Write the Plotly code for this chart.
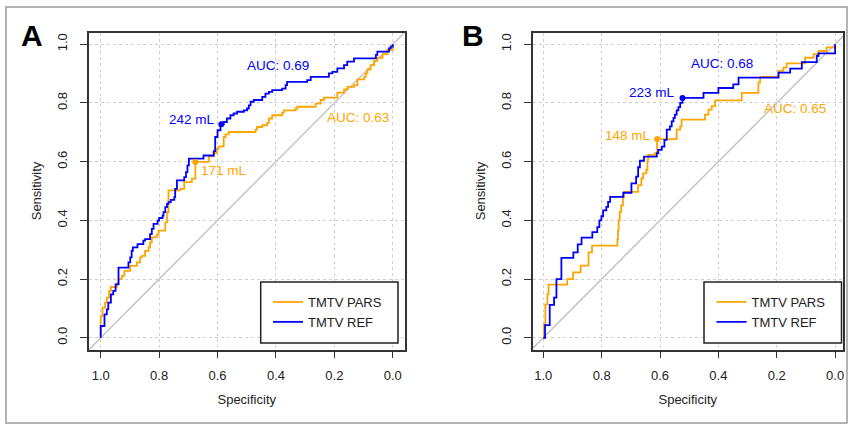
import plotly.graph_objects as go

# ---------------- data ----------------
# Panel A
spec_a_pars = [1.000, 1.000, 0.994, 0.985, 0.979, 0.971, 0.965, 0.945, 0.939, 0.928, 0.919, 0.899,
               0.876, 0.865, 0.859, 0.848, 0.836, 0.831, 0.825, 0.808, 0.802, 0.779, 0.773, 0.768,
               0.728, 0.714, 0.688, 0.676, 0.630, 0.613, 0.602, 0.596, 0.579, 0.573, 0.562, 0.470,
               0.465, 0.447, 0.430, 0.424, 0.413, 0.379, 0.373, 0.333, 0.327, 0.264, 0.247, 0.236,
               0.190, 0.167, 0.156, 0.133, 0.121, 0.098, 0.093, 0.087, 0.076, 0.064, 0.053, 0.035,
               0.018, 0.000]
sens_a_pars = [0.000, 0.074, 0.103, 0.120, 0.137, 0.160, 0.173, 0.185, 0.200, 0.211, 0.228, 0.245,
               0.257, 0.274, 0.279, 0.296, 0.308, 0.325, 0.342, 0.351, 0.365, 0.393, 0.428, 0.502,
               0.507, 0.530, 0.542, 0.599, 0.618, 0.629, 0.644, 0.652, 0.684, 0.693, 0.701, 0.709,
               0.718, 0.724, 0.732, 0.747, 0.758, 0.767, 0.775, 0.781, 0.787, 0.798, 0.810, 0.818,
               0.835, 0.846, 0.855, 0.861, 0.880, 0.889, 0.901, 0.914, 0.929, 0.943, 0.954, 0.966,
               0.981, 1.000]
spec_a_ref = [1.000, 1.000, 0.987, 0.979, 0.974, 0.965, 0.957, 0.949, 0.939, 0.905, 0.899, 0.894,
              0.890, 0.874, 0.854, 0.848, 0.831, 0.825, 0.819, 0.805, 0.800, 0.788, 0.785, 0.779,
              0.773, 0.768, 0.760, 0.748, 0.745, 0.739, 0.714, 0.708, 0.703, 0.698, 0.648, 0.613,
              0.608, 0.600, 0.590, 0.579, 0.568, 0.556, 0.545, 0.533, 0.510, 0.499, 0.493, 0.487,
              0.476, 0.447, 0.436, 0.424, 0.413, 0.379, 0.367, 0.362, 0.293, 0.281, 0.219, 0.207,
              0.190, 0.167, 0.156, 0.133, 0.058, 0.053, 0.013, 0.007, 0.000]
sens_a_ref = [0.000, 0.040, 0.080, 0.097, 0.120, 0.148, 0.160, 0.182, 0.239, 0.257, 0.274, 0.296,
              0.308, 0.319, 0.331, 0.336, 0.353, 0.371, 0.388, 0.399, 0.408, 0.416, 0.428, 0.445,
              0.456, 0.462, 0.470, 0.479, 0.507, 0.536, 0.547, 0.564, 0.587, 0.610, 0.621, 0.636,
              0.684, 0.707, 0.727, 0.735, 0.747, 0.758, 0.764, 0.770, 0.775, 0.781, 0.792, 0.804,
              0.810, 0.821, 0.832, 0.838, 0.844, 0.849, 0.861, 0.872, 0.878, 0.889, 0.901, 0.906,
              0.918, 0.929, 0.941, 0.952, 0.964, 0.975, 0.986, 0.992, 1.000]

# Panel B
spec_b_pars = [1.000, 0.998, 0.993, 0.986, 0.982, 0.918, 0.898, 0.872, 0.845, 0.833, 0.746, 0.744,
               0.742, 0.738, 0.733, 0.727, 0.723, 0.675, 0.664, 0.658, 0.647, 0.643, 0.641, 0.617,
               0.610, 0.543, 0.531, 0.526, 0.446, 0.434, 0.423, 0.411, 0.320, 0.263, 0.257, 0.194,
               0.177, 0.166, 0.103, 0.074, 0.057, 0.029, 0.000]
sens_b_pars = [0.000, 0.046, 0.114, 0.149, 0.181, 0.200, 0.223, 0.246, 0.291, 0.314, 0.337, 0.366,
               0.400, 0.429, 0.451, 0.480, 0.497, 0.520, 0.543, 0.560, 0.571, 0.606, 0.623, 0.629,
               0.677, 0.709, 0.720, 0.743, 0.760, 0.777, 0.789, 0.809, 0.834, 0.869, 0.889, 0.909,
               0.920, 0.935, 0.954, 0.966, 0.977, 0.989, 1.000]
spec_b_ref = [1.000, 0.994, 0.978, 0.963, 0.955, 0.938, 0.897, 0.882, 0.869, 0.832, 0.815, 0.808,
              0.801, 0.795, 0.784, 0.778, 0.771, 0.726, 0.698, 0.682, 0.675, 0.669, 0.655, 0.611,
              0.606, 0.594, 0.585, 0.577, 0.566, 0.560, 0.554, 0.549, 0.543, 0.537, 0.531, 0.523,
              0.451, 0.400, 0.349, 0.331, 0.194, 0.154, 0.114, 0.063, 0.057, 0.000]
sens_b_ref = [0.000, 0.043, 0.112, 0.137, 0.200, 0.272, 0.291, 0.318, 0.341, 0.360, 0.377, 0.400,
              0.414, 0.434, 0.446, 0.463, 0.480, 0.494, 0.526, 0.549, 0.581, 0.603, 0.617, 0.629,
              0.640, 0.651, 0.674, 0.709, 0.720, 0.737, 0.749, 0.760, 0.775, 0.786, 0.800, 0.817,
              0.834, 0.851, 0.863, 0.886, 0.903, 0.917, 0.939, 0.960, 0.969, 1.000]

# best thresholds (specificity, sensitivity, label)
thr_a_pars = (0.676, 0.599, "171 mL")
thr_a_ref = (0.587, 0.727, "242 mL")
thr_b_pars = (0.610, 0.677, "148 mL")
thr_b_ref = (0.523, 0.817, "223 mL")

auc_a = {"pars": "AUC: 0.63", "ref": "AUC: 0.69"}
auc_b = {"pars": "AUC: 0.65", "ref": "AUC: 0.68"}

series_names = ["TMTV PARS", "TMTV REF"]
tick_vals = [0.0, 0.2, 0.4, 0.6, 0.8, 1.0]
tick_text = ["0.0", "0.2", "0.4", "0.6", "0.8", "1.0"]

# ---------------- styling ----------------
W, H = 851, 425
ORANGE = "#FFA500"
BLUE = "#0000FF"
FONT = "Liberation Sans, Arial, Helvetica, sans-serif"
TXT = "#222222"


def fx(p):
    return p / W


def fy(p):
    return 1 - p / H


fig = go.Figure()

panels = [
    ("x", "y", "legend", spec_a_pars, sens_a_pars, spec_a_ref, sens_a_ref, thr_a_pars, thr_a_ref, auc_a),
    ("x2", "y2", "legend2", spec_b_pars, sens_b_pars, spec_b_ref, sens_b_ref, thr_b_pars, thr_b_ref, auc_b),
]

for xa, ya, lg, sp, ss, rp, rs, tp, tr, auc in panels:
    # chance diagonal
    fig.add_shape(type="line", xref=xa, yref=ya, x0=1.04, y0=-0.04, x1=-0.04, y1=1.04,
                  line=dict(color="#C4C4C4", width=1.5), layer="below")
    fig.add_trace(go.Scatter(x=sp, y=ss, mode="lines", name=series_names[0],
                             line=dict(color=ORANGE, width=1.8, shape="hv"),
                             xaxis=xa, yaxis=ya, legend=lg, hoverinfo="skip"))
    fig.add_trace(go.Scatter(x=rp, y=rs, mode="lines", name=series_names[1],
                             line=dict(color=BLUE, width=1.8, shape="hv"),
                             xaxis=xa, yaxis=ya, legend=lg, hoverinfo="skip"))
    fig.add_trace(go.Scatter(x=[tp[0]], y=[tp[1]], mode="markers", marker=dict(color=ORANGE, size=6),
                             showlegend=False, xaxis=xa, yaxis=ya, hoverinfo="skip"))
    fig.add_trace(go.Scatter(x=[tr[0]], y=[tr[1]], mode="markers", marker=dict(color=BLUE, size=6),
                             showlegend=False, xaxis=xa, yaxis=ya, hoverinfo="skip"))

# annotations (text labels)
annots = [
    # panel A
    dict(xref="x", yref="y", x=0.393, y=0.929, text=auc_a["ref"], xanchor="center", color=BLUE),
    dict(xref="x", yref="y", x=0.119, y=0.752, text=auc_a["pars"], xanchor="center", color=ORANGE),
    dict(xref="x", yref="y", x=0.603, y=0.745, text=thr_a_ref[2], xanchor="right", color=BLUE),
    dict(xref="x", yref="y", x=0.663, y=0.571, text=thr_a_pars[2], xanchor="left", color=ORANGE),
    # panel B
    dict(xref="x2", yref="y2", x=0.387, y=0.933, text=auc_b["ref"], xanchor="center", color=BLUE),
    dict(xref="x2", yref="y2", x=0.137, y=0.780, text=auc_b["pars"], xanchor="center", color=ORANGE),
    dict(xref="x2", yref="y2", x=0.542, y=0.834, text=thr_b_ref[2], xanchor="right", color=BLUE),
    dict(xref="x2", yref="y2", x=0.624, y=0.688, text=thr_b_pars[2], xanchor="right", color=ORANGE),
]
for a in annots:
    c = a.pop("color")
    fig.add_annotation(**a, yanchor="middle", showarrow=False,
                       font=dict(family=FONT, size=13.5, color=c))

# panel letters
fig.add_annotation(xref="paper", yref="paper", x=fx(32), y=fy(35), text="<b>A</b>", showarrow=False,
                   font=dict(family=FONT, size=30, color="#000"), xanchor="center", yanchor="middle")
fig.add_annotation(xref="paper", yref="paper", x=fx(473), y=fy(35), text="<b>B</b>", showarrow=False,
                   font=dict(family=FONT, size=30, color="#000"), xanchor="center", yanchor="middle")

# outer frame
fig.add_shape(type="rect", xref="paper", yref="paper", x0=fx(6), y0=fy(7), x1=fx(847), y1=fy(423),
              line=dict(color="#9a9a9a", width=1.5), layer="below")

# legend boxes
for x0, x1 in [(260.7, 398), (704, 841.5)]:
    fig.add_shape(type="rect", xref="paper", yref="paper", x0=fx(x0), y0=fy(282), x1=fx(x1), y1=fy(343),
                  line=dict(color="#222", width=1.5), fillcolor="white", layer="above")

axis_common = dict(
    tickvals=tick_vals, ticktext=tick_text, ticks="outside", ticklen=7, tickwidth=1.2, tickcolor="#333",
    showline=True, mirror=True, linecolor="#333", linewidth=1.5,
    showgrid=True, gridcolor="#d0d0d0", griddash="dot", gridwidth=1,
    zeroline=False, tickfont=dict(family=FONT, size=13, color=TXT),
)
ydom = [fy(349.5), fy(32.5)]
fig.update_layout(
    width=W, height=H, margin=dict(l=0, r=0, t=0, b=0),
    paper_bgcolor="white", plot_bgcolor="white",
    font=dict(family=FONT, color=TXT),
    xaxis=dict(domain=[fx(89), fx(404.5)], range=[1.04, -0.04], anchor="y",
               title=dict(text="Specificity", font=dict(size=13), standoff=13),
               ticklabelstandoff=6, **axis_common),
    yaxis=dict(domain=ydom, range=[-0.04, 1.04], anchor="x", tickangle=-90,
               title=dict(text="Sensitivity", font=dict(size=13), standoff=10),
               ticklabelstandoff=8, **axis_common),
    xaxis2=dict(domain=[fx(532.5), fx(843)], range=[1.037, -0.027], anchor="y2",
                title=dict(text="Specificity", font=dict(size=13), standoff=13),
                ticklabelstandoff=6, **axis_common),
    yaxis2=dict(domain=ydom, range=[-0.04, 1.04], anchor="x2", tickangle=-90,
                title=dict(text="Sensitivity", font=dict(size=13), standoff=10),
                ticklabelstandoff=8, **axis_common),
    legend=dict(x=fx(268), y=fy(287), xanchor="left", yanchor="top", bgcolor="rgba(0,0,0,0)",
                borderwidth=0, font=dict(family=FONT, size=13, color=TXT), tracegroupgap=0),
    legend2=dict(x=fx(711.5), y=fy(287), xanchor="left", yanchor="top", bgcolor="rgba(0,0,0,0)",
                 borderwidth=0, font=dict(family=FONT, size=13, color=TXT), tracegroupgap=0),
    showlegend=True,
)

fig.write_html("out.html", config={"displayModeBar": False},
               post_script="document.body.style.margin='0px';")
